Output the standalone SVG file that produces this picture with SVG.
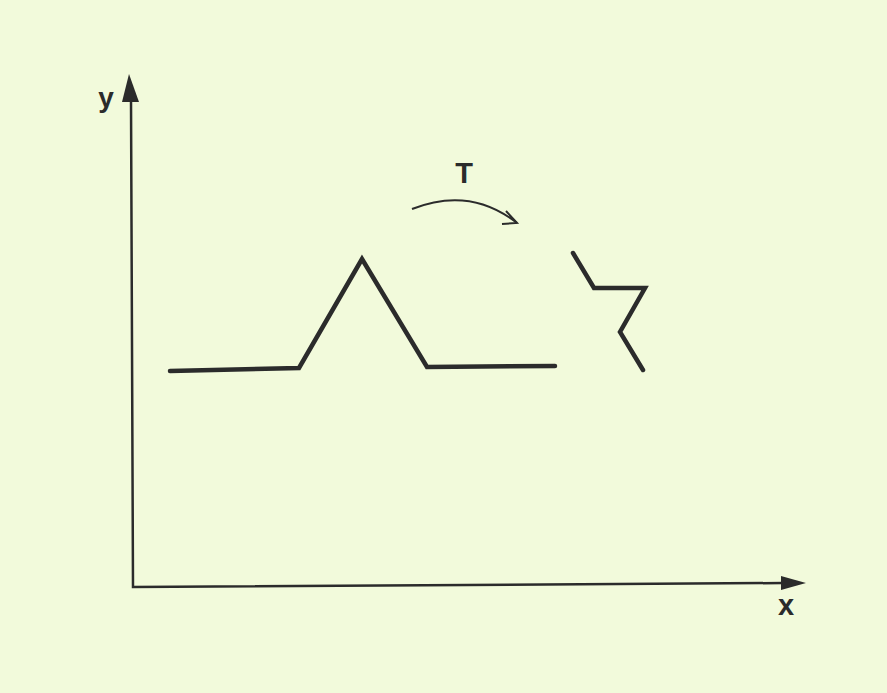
<svg xmlns="http://www.w3.org/2000/svg" width="887" height="693" viewBox="0 0 887 693">
<style>
.axis{stroke:#2b2b2b;stroke-width:2.5;fill:none}
.curve{stroke:#2b2b2b;stroke-width:4.5;fill:none;stroke-linejoin:miter;stroke-linecap:round}
.lbl{font-family:"Liberation Sans",Arial,sans-serif;font-weight:bold;fill:#2b2b2b}
</style>
<rect width="887" height="693" fill="#f2fadb"/>
<g id="axes">
<path class="axis" d="M131 100 L133 587 L783 583"/>
<polygon points="129,74 122,102 139,102" fill="#2b2b2b"/>
<polygon points="806,583 781,576 781,590" fill="#2b2b2b"/>
<text class="lbl" x="106" y="107" font-size="28" text-anchor="middle">y</text>
<text class="lbl" x="786" y="615" font-size="29" text-anchor="middle">x</text>
</g>
<g id="signal">
<polyline class="curve" points="170,371 299,368 362,259 427,367 555,366"/>
</g>
<g id="transformed">
<polyline class="curve" points="573,253 594,288 645,288 620,332 643,370"/>
</g>
<g id="connectors">
<path d="M412 209 Q470 186 517 223" stroke="#2b2b2b" stroke-width="2" fill="none"/>
<path d="M506 211 L517 223 L502 224" stroke="#2b2b2b" stroke-width="2" fill="none" stroke-linejoin="miter"/>
<text class="lbl" x="464" y="183" font-size="29" text-anchor="middle">T</text>
</g>
</svg>
